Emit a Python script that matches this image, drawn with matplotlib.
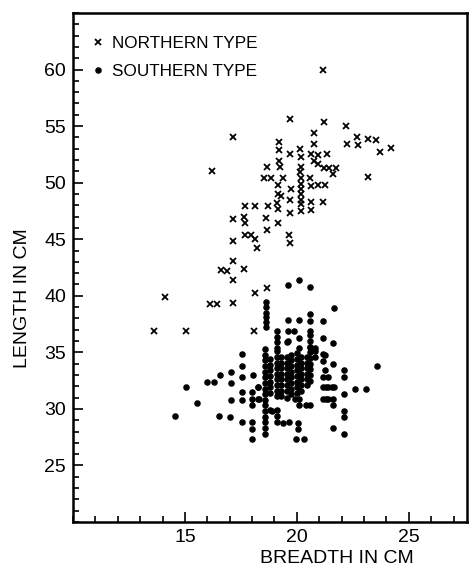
import matplotlib.pyplot as plt
from matplotlib.ticker import MultipleLocator

# Northern type (x markers): breadth / length in cm
north_breadth = [17.15, 19.7, 21.2, 22.2, 20.75, 22.7, 23.2, 23.55, 22.25, 22.75, 24.2, 23.7,
                 19.2, 19.2, 19.7, 20.15, 20.2, 20.75, 20.65, 20.95, 21.35, 20.75, 20.95,
                 19.2, 19.25, 18.65, 20.2, 20.15, 21.2, 21.45, 21.75, 21.6, 23.2,
                 18.55, 18.85, 19.4, 20.2, 20.6, 19.15, 20.2, 20.2, 20.2, 20.2, 20.2, 20.2,
                 20.65, 20.95, 21.25, 19.75, 19.15, 19.3, 19.7, 20.65, 21.15, 19.1, 19.15,
                 19.7, 20.65, 17.7, 18.15, 18.7, 17.15, 17.65, 17.7, 18.6, 19.15, 18.65,
                 17.7, 17.95, 18.15, 18.2, 17.15, 19.65, 19.7, 17.15, 16.6, 16.9, 17.65,
                 17.15, 18.15, 18.65, 14.1, 16.1, 16.45, 17.15, 13.6, 15.05, 18.1, 21.15, 16.2]
north_length = [54.0, 55.6, 55.4, 55.0, 54.4, 54.0, 53.9, 53.8, 53.4, 53.3, 53.1, 52.7,
                53.6, 52.9, 52.5, 53.0, 52.3, 53.4, 52.5, 52.4, 52.5, 51.9, 51.65,
                51.9, 51.35, 51.4, 51.4, 50.9, 51.3, 51.3, 51.3, 50.8, 50.5,
                50.4, 50.4, 50.4, 50.4, 50.4, 49.8, 49.9, 49.4, 49.0, 48.5, 48.1, 47.5,
                49.7, 49.8, 49.8, 49.4, 49.0, 48.8, 48.5, 48.3, 48.3, 48.2, 47.7,
                47.35, 47.6, 47.9, 47.9, 47.9, 46.8, 47.0, 46.4, 46.9, 46.4, 45.8,
                45.4, 45.4, 45.0, 44.2, 44.8, 45.4, 44.7, 43.1, 42.3, 42.2, 42.4,
                41.35, 40.25, 40.7, 39.9, 39.3, 39.3, 39.4, 36.85, 36.9, 36.85, 60.0, 51.05]

# Southern type (dots)
south_breadth = [
    # upper part
    19.6, 20.1, 20.6, 18.6, 18.6, 18.6, 18.6, 18.6, 18.6, 21.65,
    19.6, 20.1, 20.6, 20.6, 21.15, 19.1, 19.6, 19.85, 20.6,
    19.1, 20.1, 20.6, 21.15, 19.6, 20.6, 21.6, 19.1, 20.1, 20.6, 20.8,
    # long column at 18.6
    18.57, 18.57, 18.57, 18.57, 18.57, 18.57, 18.57, 18.57, 18.57, 18.57, 18.57, 18.57,
    18.57, 18.57, 18.57, 18.57,
    # left side
    17.55, 17.55, 17.05, 16.55, 17.55, 18.05, 16.0, 16.3, 17.05, 15.05, 17.55, 17.55,
    18.0, 18.0, 18.0, 18.25, 18.3, 17.05, 15.55, 14.55, 16.5, 17.0, 17.55,
    18.0, 18.0, 18.0, 18.8, 19.1, 19.1, 19.1, 19.4, 19.65, 20.05, 20.05, 19.95, 20.3,
    # right side
    21.15, 21.15, 21.6, 22.1, 22.1, 21.15, 21.4, 21.15, 21.4, 21.65, 22.1, 22.6, 23.1,
    23.6, 21.15, 21.4, 21.6, 22.1, 22.1, 21.6, 22.1, 20.1, 20.4, 20.6, 20.1, 19.9,
    19.1, 19.55, 21.25, 21.25, 21.3, 21.55, 21.3, 21.6, 18.25, 18.25, 18.9,
    # dense core
    18.8, 18.8, 18.8, 18.8, 18.8, 18.8, 18.8,
    19.1, 19.1, 19.1, 19.1, 19.1, 19.1, 19.1, 19.1, 19.1,
    19.3, 19.3, 19.3, 19.3, 19.3, 19.3, 19.3, 19.3,
    19.55, 19.55, 19.55, 19.55, 19.55, 19.55, 19.55, 19.55,
    19.75, 19.75, 19.75, 19.75, 19.75, 19.75, 19.75, 19.75,
    20.0, 20.0, 20.0, 20.0, 20.0, 20.0, 20.0, 20.0,
    20.2, 20.2, 20.2, 20.2, 20.2, 20.2, 20.2,
    20.45, 20.45, 20.45, 20.45, 20.45, 20.45,
    20.6, 20.6, 20.6, 20.6, 20.6, 20.6, 20.6,
    20.8, 20.8]
south_length = [
    40.95, 41.35, 40.8, 39.45, 39.0, 38.5, 38.1, 37.65, 37.2, 38.9,
    37.9, 37.9, 38.4, 37.8, 37.8, 36.9, 36.9, 36.9, 36.9,
    36.35, 36.3, 36.5, 36.3, 36.0, 36.0, 35.8, 35.4, 35.35, 35.5, 35.35,
    35.3, 34.8, 34.3, 33.8, 33.3, 32.8, 32.3, 31.8, 31.3, 30.8, 30.3, 29.8,
    29.3, 28.8, 28.3, 27.8,
    34.85, 33.8, 33.3, 33.0, 32.85, 33.0, 32.4, 32.35, 32.3, 31.95, 31.5, 30.8,
    31.45, 30.9, 30.35, 31.95, 30.85, 30.8, 30.5, 29.35, 29.35, 29.3, 28.85,
    28.85, 28.25, 27.35, 29.9, 29.9, 29.35, 28.8, 28.75, 28.8, 28.75, 28.25, 27.35, 27.35,
    34.25, 34.85, 33.95, 33.45, 32.85, 32.85, 32.85, 31.95, 31.9, 31.95, 31.3, 31.8, 31.8,
    33.8, 30.85, 30.85, 30.3, 29.85, 29.25, 28.3, 27.8, 30.35, 30.35, 30.35, 30.9, 30.9,
    35.95, 35.95, 34.8, 33.45, 31.95, 31.95, 30.9, 30.9, 31.95, 30.9, 29.85,
    34.4, 33.9, 33.4, 32.9, 32.4, 31.9, 31.4,
    35.1, 34.6, 34.1, 33.6, 33.1, 32.6, 32.1, 31.6, 31.1,
    34.6, 34.1, 33.6, 33.1, 32.6, 32.1, 31.6, 31.1,
    34.6, 34.1, 33.6, 33.1, 32.6, 32.1, 31.6, 31.0,
    34.8, 34.3, 33.8, 33.3, 32.8, 32.3, 31.8, 31.3,
    34.9, 34.4, 33.9, 33.4, 32.9, 32.4, 31.9, 31.4,
    34.6, 34.1, 33.6, 33.1, 32.6, 32.1, 31.6,
    34.6, 34.1, 33.6, 33.1, 32.6, 32.1,
    35.5, 35.0, 34.5, 34.0, 33.5, 33.0, 32.5,
    35.1, 34.6]

plt.rcParams['font.family'] = ['Liberation Sans', 'DejaVu Sans']

fig = plt.figure(figsize=(4.69, 5.74), dpi=100)
ax = fig.add_axes([0.1557, 0.0906, 0.840, 0.8868])

ax.plot(north_breadth, north_length, linestyle='none', marker='x', color='black',
        markersize=5, markeredgewidth=1.3, label='NORTHERN TYPE')
ax.plot(south_breadth, south_length, linestyle='none', marker='o', color='black',
        markersize=3.7, label='SOUTHERN TYPE')

ax.set_xlim(10, 27.6)
ax.set_ylim(20, 65)
ax.xaxis.set_minor_locator(MultipleLocator(1))
ax.yaxis.set_minor_locator(MultipleLocator(1))
ax.set_xticks([15, 20, 25])
ax.set_yticks([25, 30, 35, 40, 45, 50, 55, 60])
ax.tick_params(which='both', direction='in', width=1.2, labelsize=14)
ax.tick_params(which='major', length=7, pad=5)
ax.tick_params(which='minor', length=4)

for s in ax.spines.values():
    s.set_linewidth(1.8)

ax.set_xlabel('BREADTH IN CM', fontsize=14)
ax.xaxis.set_label_coords(0.67, -0.055)
ax.set_ylabel('LENGTH IN CM', fontsize=14)
ax.yaxis.set_label_coords(-0.107, 0.44)

# Legende oben links, wie im Original ohne Rahmen
ax.legend(loc='upper left', bbox_to_anchor=(0.025, 0.975), frameon=False,
          handlelength=0.6, handletextpad=0.5, labelspacing=0.75, fontsize=12.3,
          borderaxespad=0.2)

plt.savefig('out.png', dpi=100)
